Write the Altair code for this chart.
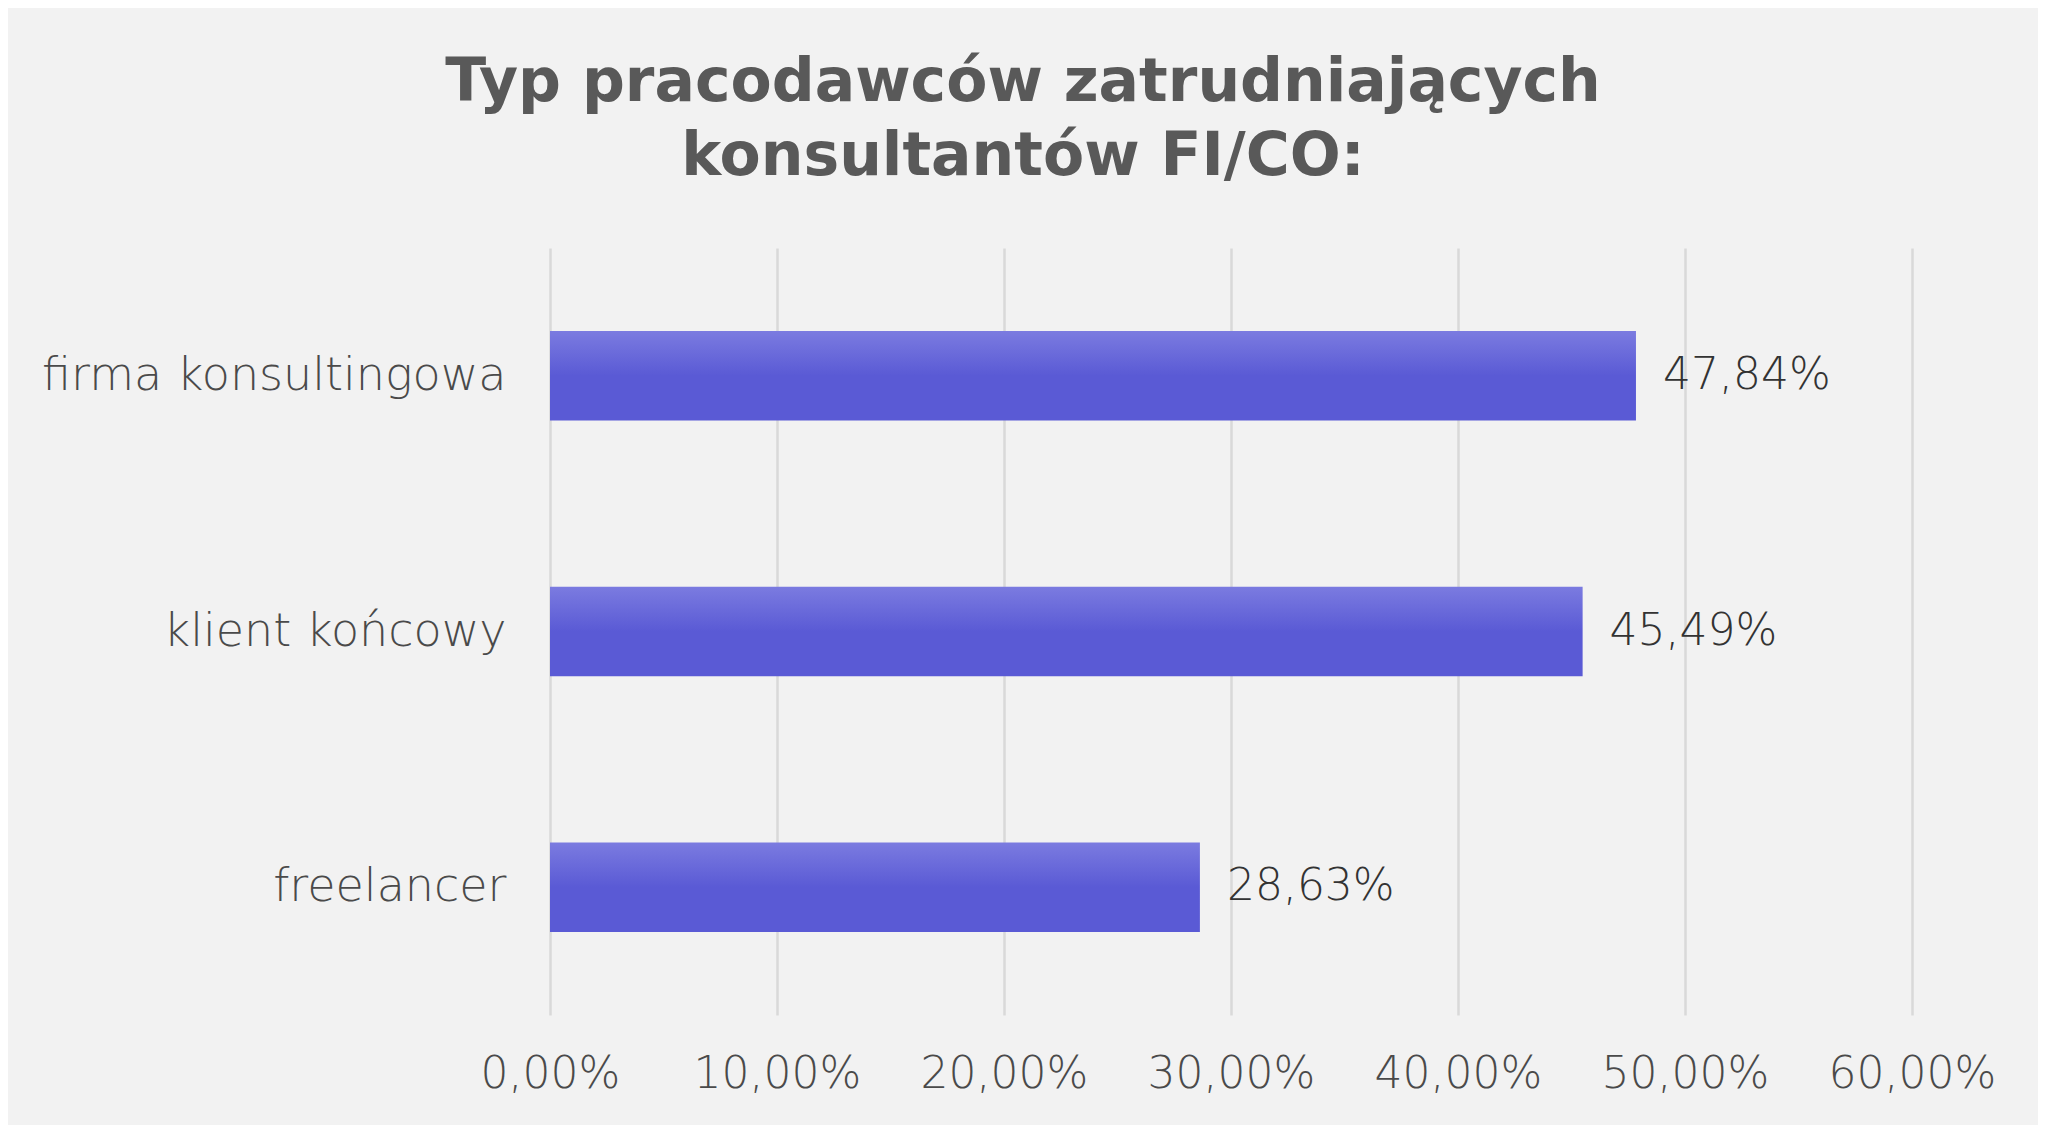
import altair as alt
import pandas as pd

categories = ["firma konsultingowa", "klient końcowy", "freelancer"]
values = [47.84, 45.49, 28.63]
x_ticks = [0, 10, 20, 30, 40, 50, 60]
title_lines = ["Typ pracodawców zatrudniających", "konsultantów FI/CO:"]

df = pd.DataFrame({"cat": categories, "val": values})

FONT = "DejaVu Sans"
LBL = 44

y_enc = alt.Y(
    "cat:N",
    sort=categories,
    title=None,
    scale=alt.Scale(paddingInner=0.65, paddingOuter=0.325),
    axis=alt.Axis(
        domain=False, ticks=False, grid=False,
        labelFont=FONT, labelFontSize=46, labelFontWeight=200,
        labelColor="#4a4a4a", labelPadding=44, labelLimit=800,
    ),
)
x_enc = alt.X(
    "val:Q",
    title=None,
    scale=alt.Scale(domain=[0, 60], nice=False),
    axis=alt.Axis(
        values=x_ticks, domain=False, ticks=False,
        grid=True, gridColor="#d9d9d9", gridWidth=2.5,
        labelFont=FONT, labelFontSize=LBL, labelFontWeight=200,
        labelColor="#4a4a4a", labelPadding=37,
        labelFlush=False, labelOverlap=False, labelBound=False,
        labelExpr="replace(format(datum.value, '.2f'), '.', ',') + '%'",
    ),
)

bars = alt.Chart(df).mark_bar(
    color=alt.Gradient(
        gradient="linear",
        x1=0, x2=0, y1=0, y2=1,
        stops=[
            alt.GradientStop(color="#7b7be0", offset=0),
            alt.GradientStop(color="#5a5ad5", offset=0.5),
            alt.GradientStop(color="#5a5ad5", offset=1),
        ],
    )
).encode(x=x_enc, y=y_enc)

labels = alt.Chart(df).transform_calculate(
    lab="replace(format(datum.val, '.2f'), '.', ',') + '%'"
).mark_text(
    align="left", baseline="middle", dx=27,
    font=FONT, fontSize=LBL, fontWeight=200, color="#333333",
).encode(x=alt.X("val:Q"), y=alt.Y("cat:N", sort=categories), text="lab:N")

chart = alt.layer(bars, labels).properties(
    width=1362,
    height=767,
    background="#f2f2f2",
    padding={"left": 542, "top": 240, "right": 126, "bottom": 110},
    autosize=alt.AutoSizeParams(type="none"),
    title=alt.TitleParams(
        text=title_lines,
        font=FONT, fontSize=60, fontWeight="bold", color="#595959",
        anchor="middle", dx=-208, offset=60, lineHeight=74,
    ),
).configure_view(stroke=None)

chart.save("out.html", embed_options={"renderer": "svg", "actions": False})
